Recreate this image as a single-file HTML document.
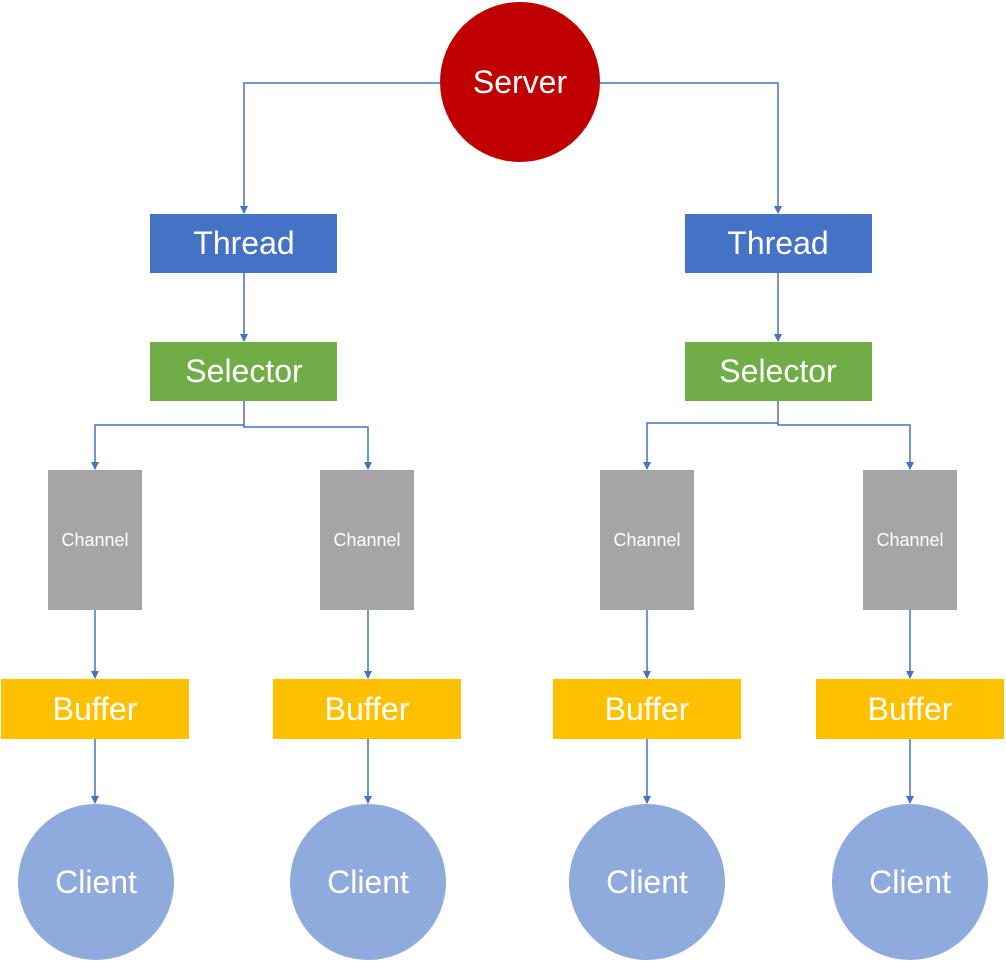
<!DOCTYPE html>
<html><head><meta charset="utf-8"><style>
html,body{margin:0;padding:0;background:#fff;}
svg{display:block;}
text{font-family:"Liberation Sans",sans-serif;fill:#fff;text-anchor:middle;dominant-baseline:central;}
</style></head><body>
<svg width="1006" height="963" viewBox="0 0 1006 963" xmlns="http://www.w3.org/2000/svg">
<defs><marker id="a" markerWidth="8" markerHeight="8" refX="7" refY="4" orient="auto" markerUnits="userSpaceOnUse"><path d="M0,0 L8,4 L0,8 z" fill="#4472C4"/></marker></defs>
<g stroke="#4472C4" stroke-width="1.5" fill="none" marker-end="url(#a)">
<path d="M440,83 H244 V213"/>
<path d="M600,83 H778 V213"/>
<path d="M244,273 V341"/>
<path d="M778,273 V341"/>
<path d="M244,401 V425 H95 V469"/>
<path d="M244,425 V427 H368 V469"/>
<path d="M778,401 V423 H647 V469"/>
<path d="M778,423 V425 H910 V469"/>
<path d="M95,610 V678"/><path d="M368,610 V678"/><path d="M647,610 V678"/><path d="M910,610 V678"/>
<path d="M95,739 V803"/><path d="M368,739 V803"/><path d="M647,739 V803"/><path d="M910,739 V803"/>
</g>
<circle cx="520" cy="82" r="80" fill="#C00000"/>
<text x="520" y="82" font-size="32">Server</text>
<rect x="150" y="214" width="187" height="59" fill="#4472C4"/><text x="244" y="243" font-size="32">Thread</text>
<rect x="685" y="214" width="187" height="59" fill="#4472C4"/><text x="778" y="243" font-size="32">Thread</text>
<rect x="150" y="342" width="187" height="59" fill="#70AD47"/><text x="244" y="371" font-size="32">Selector</text>
<rect x="685" y="342" width="187" height="59" fill="#70AD47"/><text x="778" y="371" font-size="32">Selector</text>
<g fill="#A5A5A5">
<rect x="48" y="470" width="94" height="140"/><rect x="320" y="470" width="94" height="140"/>
<rect x="600" y="470" width="94" height="140"/><rect x="863" y="470" width="94" height="140"/>
</g>
<text x="95" y="540" font-size="18">Channel</text><text x="367" y="540" font-size="18">Channel</text>
<text x="647" y="540" font-size="18">Channel</text><text x="910" y="540" font-size="18">Channel</text>
<g fill="#FFC000">
<rect x="1" y="679" width="188" height="60"/><rect x="273" y="679" width="188" height="60"/>
<rect x="553" y="679" width="188" height="60"/><rect x="816" y="679" width="188" height="60"/>
</g>
<text x="95" y="709" font-size="32">Buffer</text><text x="367" y="709" font-size="32">Buffer</text>
<text x="647" y="709" font-size="32">Buffer</text><text x="910" y="709" font-size="32">Buffer</text>
<g fill="#8FAADC">
<circle cx="96" cy="882" r="78"/><circle cx="368" cy="882" r="78"/>
<circle cx="647" cy="882" r="78"/><circle cx="910" cy="882" r="78"/>
</g>
<text x="96" y="882" font-size="32">Client</text><text x="368" y="882" font-size="32">Client</text>
<text x="647" y="882" font-size="32">Client</text><text x="910" y="882" font-size="32">Client</text>
</svg>
</body></html>
